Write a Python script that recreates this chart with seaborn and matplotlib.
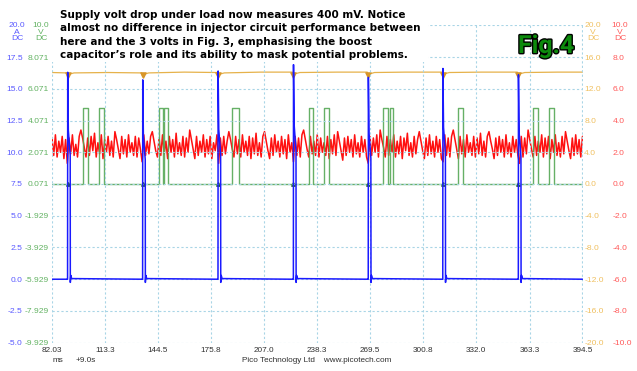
import numpy as np
import pandas as pd
import matplotlib
matplotlib.use("Agg")
import matplotlib.pyplot as plt
import matplotlib.patheffects as pe
from matplotlib.patches import Rectangle
import seaborn as sns

# ---------------- data ----------------
x_ticks = [82.03, 113.3, 144.5, 175.8, 207.0, 238.3, 269.5, 300.8, 332.0, 363.3, 394.5]
x_labels = ["82.03", "113.3", "144.5", "175.8", "207.0", "238.3", "269.5", "300.8", "332.0", "363.3", "394.5"]
blue_ticks = [-5.0, -2.5, 0.0, 2.5, 5.0, 7.5, 10.0, 12.5, 15.0, 17.5]
green_ticks = [-9.929, -7.929, -5.929, -3.929, -1.929, 0.071, 2.071, 4.071, 6.071, 8.071]
orange_ticks = [-20.0, -16.0, -12.0, -8.0, -4.0, 0.0, 4.0, 8.0, 12.0, 16.0]
red_ticks = [-10.0, -8.0, -6.0, -4.0, -2.0, 0.0, 2.0, 4.0, 6.0, 8.0]

# injector events (ms) and current peaks (A)
event_ms = [91.2, 135.4, 179.8, 224.2, 268.3, 312.2, 356.7]
blue_peak_A = [16.3, 15.7, 16.4, 16.9, 15.9, 16.6, 16.1]

# green channel pulses (V)
green_on_ms = [100.5, 109.7, 145.1, 148.2, 188.2, 233.4, 242.4, 277.2, 281.1, 321.3, 365.5, 374.8]
green_off_ms = [103.4, 112.8, 147.6, 150.5, 192.2, 235.9, 245.4, 279.8, 283.1, 324.3, 368.1, 377.7]
green_low_V = 0.071
green_high_V = 4.87

# orange supply trace (V)
orange_ms = [82.03, 90.6, 91.2, 92.4, 95.0, 115.0, 134.8, 135.4, 136.6, 139.0, 160.0,
             179.2, 179.8, 181.0, 183.5, 205.0, 223.6, 224.2, 225.4, 228.0, 250.0,
             267.7, 268.3, 269.5, 272.0, 290.0, 311.6, 312.2, 313.4, 316.0, 335.0,
             356.1, 356.7, 357.9, 360.5, 380.0, 394.5]
orange_V = [14.05, 14.0, 13.45, 13.85, 14.0, 14.05, 14.0, 13.5, 13.85, 14.0, 14.1,
            14.05, 13.5, 13.85, 14.0, 14.1, 14.1, 13.55, 13.9, 14.05, 14.1,
            14.1, 13.5, 13.9, 14.05, 14.1, 14.1, 13.5, 13.9, 14.05, 14.1,
            14.1, 13.5, 13.9, 14.05, 14.1, 14.1]

# red channel (V), one sample per ms from 82.03 ms
red_V = [
    2.9, 1.8, 3.1, 1.7, 2.7, 2.0, 3.0, 1.6, 2.8, 1.3, 2.9, 1.9, 3.1, 1.8, 2.5, 1.7, 3.0,
    3.4, 2.9, 2.3, 1.7,
    2.9, 1.8, 3.0, 2.1, 3.2, 1.7, 2.6, 1.9, 3.1, 1.6, 2.8, 2.0, 3.0, 1.8, 2.7, 1.7,
    3.3, 2.8, 2.2, 1.6,
    3.0, 1.9, 2.8, 1.7, 3.1, 2.0, 2.6, 1.8, 3.0, 1.7, 2.9, 2.2, 1.4, 3.1, 1.8, 2.7, 1.9, 3.0,
    3.3, 2.7, 2.1, 1.7,
    2.9, 1.8, 3.1, 1.9, 2.7, 1.6, 3.0, 2.0, 2.8, 1.7, 3.2, 1.9, 2.6, 1.8, 3.0, 1.7, 2.9, 2.0,
    3.4, 2.8, 2.2, 1.6,
    3.0, 1.8, 2.7, 2.0, 3.1, 1.7, 2.8, 1.9, 3.0, 1.6, 2.6, 2.1, 3.1, 1.3, 2.9, 1.8, 3.0, 1.9, 2.7,
    3.3, 2.8, 2.2, 1.7,
    3.0, 1.9, 2.8, 1.7, 3.1, 2.0, 2.7, 1.8, 3.0, 1.6, 2.9, 1.9, 3.2, 1.8, 2.6, 1.7, 3.0,
    3.3, 2.7, 2.1, 1.6,
    2.9, 1.8, 3.1, 2.0, 2.7, 1.7, 3.0, 1.9, 2.8, 1.6, 3.1, 2.0, 2.6, 1.4, 3.0, 1.8, 2.9, 1.7, 3.1,
    3.4, 2.8, 2.2, 1.7,
    3.0, 1.9, 2.7, 1.8, 3.1, 1.7, 2.9, 2.0, 2.6, 1.8, 3.0, 1.6, 2.8, 1.9, 3.1, 1.8,
    3.3, 2.7, 2.1, 1.5,
    2.9, 1.8, 3.0, 2.0, 2.8, 1.7, 3.1, 1.9, 2.6, 1.7, 3.0, 2.0, 2.8, 1.7, 1.3, 3.0, 1.8, 2.9, 2.0, 3.1, 1.7,
    3.4, 2.8, 2.3, 1.7,
    3.0, 1.8, 2.8, 2.0, 3.1, 1.7, 2.7, 1.9, 3.0, 1.6, 2.9, 2.1, 3.2, 1.8, 2.6, 1.7, 3.0, 1.9, 2.8,
    3.3, 2.7, 2.1, 1.6,
    2.9, 1.8, 3.1, 1.9, 2.7, 1.7, 3.0, 2.0, 2.8, 1.6, 1.4, 3.1, 1.8, 2.9, 1.7, 3.0,
    3.4, 2.8, 2.2, 1.6,
    3.0, 1.9, 2.8, 1.7, 3.1, 2.0, 2.6, 1.8, 3.0, 1.7, 2.9, 1.9, 3.2, 1.8, 2.7, 1.7, 3.0,
    3.3, 2.7, 2.2, 1.6,
    2.9, 1.8, 3.0, 2.0, 2.8, 1.7, 3.1, 1.9, 2.6, 1.7, 3.0, 2.0, 2.8, 1.8, 1.3, 3.0, 1.7, 2.9, 1.9,
    3.4, 2.8, 2.2, 1.7,
    3.0, 1.8, 2.7, 2.0, 3.1, 1.7, 2.9, 1.9, 3.0, 1.6, 2.8, 2.0, 3.1, 1.8, 2.6, 1.7, 3.0, 1.9,
    3.3, 2.7, 2.1, 1.6,
    2.9, 1.8, 3.1, 1.9, 2.8, 1.7, 3.0,
]

title_text = ("Supply volt drop under load now measures 400 mV. Notice\n"
              "almost no difference in injector circuit performance between\n"
              "here and the 3 volts in Fig. 3, emphasising the boost\n"
              "capacitor\u2019s role and its ability to mask potential problems.")

# ---------------- traces ----------------
x0, x1 = x_ticks[0], x_ticks[-1]

b_t, b_v = [x0], [0.0]
for t0, p in zip(event_ms, blue_peak_A):
    rel = [-0.3, 0.0, 0.08, 0.45, 1.0, 1.55, 1.62, 1.9, 2.4]
    val = [0.0, 0.0, p, 0.72 * p, 0.66 * p, 0.6 * p, -0.25, 0.3, 0.05]
    b_t += [t0 + r for r in rel]
    b_v += val
b_t.append(x1); b_v.append(0.0)
blue_df = pd.DataFrame({"t": b_t, "v": b_v})

g_t, g_v = [x0], [green_low_V]
for on, off in zip(green_on_ms, green_off_ms):
    g_t += [on, on, off, off]
    g_v += [green_low_V, green_high_V, green_high_V, green_low_V]
g_t.append(x1); g_v.append(green_low_V)
green_df = pd.DataFrame({"t": g_t, "v": g_v})

red_t = x0 + np.arange(len(red_V)) * ((x1 - x0) / (len(red_V) - 1))
red_df = pd.DataFrame({"t": red_t, "v": red_V})
orange_df = pd.DataFrame({"t": orange_ms, "v": orange_V})

# ---------------- figure ----------------
sns.set_theme(style="white")
plt.rcParams["font.family"] = ["Liberation Sans", "DejaVu Sans"]

W, H = 637, 371
fig = plt.figure(figsize=(W / 100, H / 100), dpi=100)
fig.patch.set_facecolor("white")
L, R, T, B = 52, 582.5, 25.3, 342.7
ax = fig.add_axes([L / W, 1 - B / H, (R - L) / W, (B - T) / H])
axg = ax.twinx(); axo = ax.twinx(); axr = ax.twinx()

BLUE_LBL, GREEN_LBL, ORANGE_LBL, RED_LBL = "#5a5aff", "#62b262", "#f0c060", "#ff5a5a"
fs = 6.1
fsx = 5.9

for a in (ax, axg, axo, axr):
    a.set_xlim(x0, x1)
    for s in a.spines.values():
        s.set_visible(False)
    a.patch.set_alpha(0)

ax.set_ylim(-5, 20)
axg.set_ylim(-9.929, 10.071)
axo.set_ylim(-20, 20)
axr.set_ylim(-10, 10)

# traces (drawn through seaborn)
sns.lineplot(data=red_df, x="t", y="v", ax=axr, color="#ff1010", lw=1.1,
             sort=False, estimator=None, zorder=2)
sns.lineplot(data=green_df, x="t", y="v", ax=axg, color="#55a855", lw=1.0,
             sort=False, estimator=None, alpha=0.9, zorder=3)
axg.scatter(event_ms, [green_low_V] * len(event_ms), marker="^", s=6, color="#2a6a2a", zorder=4)
sns.lineplot(data=orange_df, x="t", y="v", ax=axo, color="#e6b24a", lw=0.9,
             sort=False, estimator=None, zorder=3)
axo.scatter(event_ms, [13.75] * len(event_ms), marker="v", s=14, color="#d8962a", zorder=4)
sns.lineplot(data=blue_df, x="t", y="v", ax=ax, color="#1a1aff", lw=1.1,
             sort=False, estimator=None, zorder=5)

grid_c = "#a9d5e6"
ax.set_xlim(x0, x1)
ax.set_xticks(x_ticks)
ax.set_xticklabels(x_labels, fontsize=fsx, color="#303030")
ax.set_yticks(blue_ticks + [20.0])
ax.set_yticklabels([f"{v:.1f}" for v in blue_ticks] + [""], fontsize=fs, color=BLUE_LBL)
ax.tick_params(axis="x", length=0, pad=3.3)
ax.tick_params(axis="y", length=0, pad=21)
ax.grid(True, color=grid_c, linestyle=(0, (2, 2)), linewidth=0.8)

axg.yaxis.tick_left()
axg.set_yticks(green_ticks)
axg.set_yticklabels([f"{v:.3f}" for v in green_ticks], fontsize=fs, color=GREEN_LBL)
axg.tick_params(axis="y", length=0, pad=2)
axg.grid(False)

axo.set_yticks(orange_ticks)
axo.set_yticklabels([f"{v:.1f}" for v in orange_ticks], fontsize=fs, color=ORANGE_LBL)
axo.tick_params(axis="y", length=0, pad=1.2)
axo.grid(False)

axr.set_yticks(red_ticks)
axr.set_yticklabels([f"{v:.1f}" for v in red_ticks], fontsize=fs, color=RED_LBL)
axr.tick_params(axis="y", length=0, pad=21.5)
axr.grid(False)

for a in (ax, axg, axo, axr):
    a.set_xlabel(""); a.set_ylabel("")
ax.set_zorder(3); axg.set_zorder(1); axo.set_zorder(2); axr.set_zorder(0)
ax.patch.set_alpha(0)

def ftxt(x, y, s, **kw):
    fig.text(x / W, 1 - y / H, s, **kw)

hdr = dict(fontsize=fs, va="top", ha="center", linespacing=0.95)
ftxt(17, 22, "20.0\nA\nDC", color=BLUE_LBL, **hdr)
ftxt(41, 22, "10.0\nV\nDC", color=GREEN_LBL, **hdr)
ftxt(593, 22, "20.0\nV\nDC", color=ORANGE_LBL, **hdr)
ftxt(620, 22, "10.0\nV\nDC", color=RED_LBL, **hdr)

ftxt(58, 361, "ms", fontsize=fsx, color="#303030", ha="center", va="center")
ftxt(86, 361, "+9.0s", fontsize=fsx, color="#303030", ha="center", va="center")
ftxt(317, 361, "Pico Technology Ltd    www.picotech.com", fontsize=fsx, color="#303030",
     ha="center", va="center")

fig.patches.append(Rectangle((L / W, 1 - 62 / H), (428 - L) / W, 62 / H,
                             transform=fig.transFigure, facecolor="white",
                             edgecolor="none", zorder=10))
fig.text(60 / W, 1 - 10 / H, title_text, fontsize=7.5, fontweight="bold",
         family="DejaVu Sans", color="black", ha="left", va="top",
         linespacing=1.42, zorder=11)

fig.text(518 / W, 1 - 53 / H, "Fig.4", fontsize=18, fontweight="bold",
         family=["Roboto", "DejaVu Sans"], color="#0c8a0c",
         ha="left", va="baseline", zorder=11,
         path_effects=[pe.withStroke(linewidth=2, foreground="black")])

fig.savefig("out.png", dpi=100)
